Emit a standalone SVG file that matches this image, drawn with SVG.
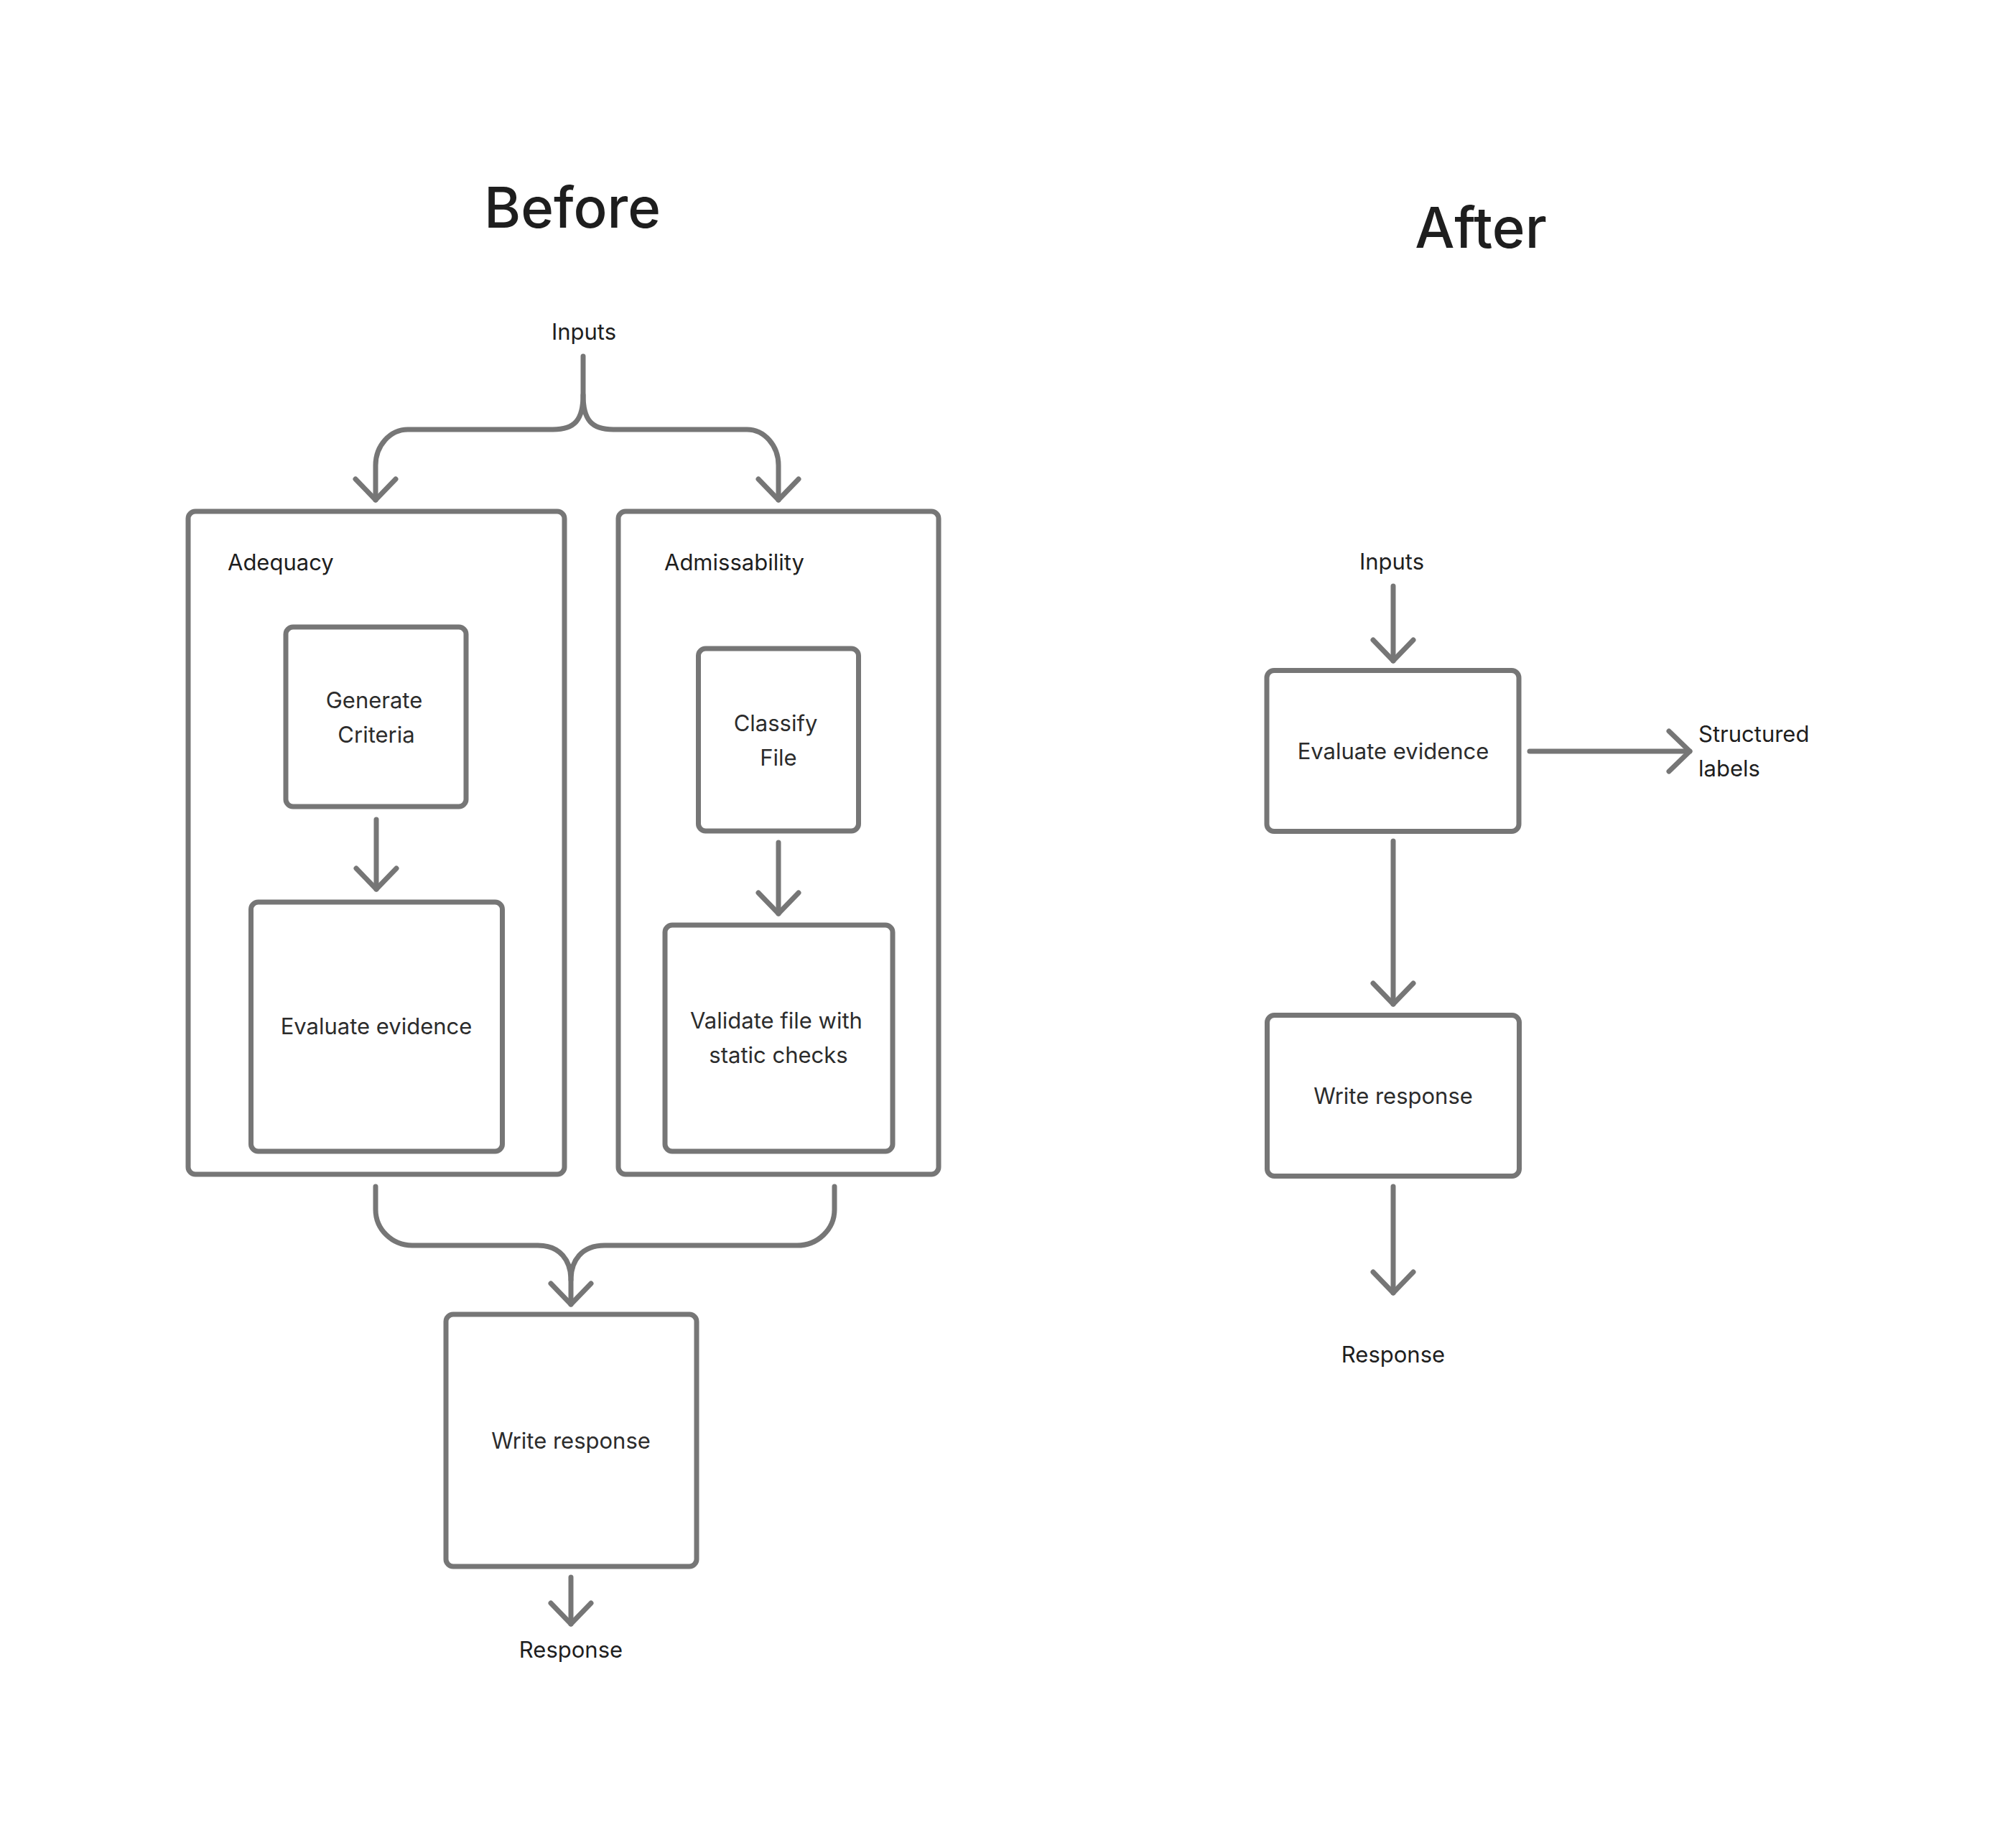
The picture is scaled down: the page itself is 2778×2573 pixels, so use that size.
<svg xmlns="http://www.w3.org/2000/svg" width="2778" height="2573" viewBox="0 0 2778 2573">
<style>
.box{fill:none;stroke:#767676;stroke-width:7}
.con{fill:none;stroke:#767676;stroke-width:7;stroke-linecap:round;stroke-linejoin:round}
.title{font-family:Inter,"Noto Sans","Liberation Sans",sans-serif;font-size:78px;fill:#1e1e1e;text-anchor:middle;font-weight:500}
.lbl{font-family:Inter,"Noto Sans","Liberation Sans",sans-serif;font-size:31px;fill:#1e1e1e}
.node{font-family:Inter,"Noto Sans","Liberation Sans",sans-serif;font-size:31px;fill:#2c2c2c;text-anchor:middle}
.mid{text-anchor:middle}
</style>
<defs>
<marker id="chev" markerUnits="userSpaceOnUse" viewBox="-40 -40 80 80" refX="0" refY="0" markerWidth="80" markerHeight="80" orient="auto">
<path d="M-29,-28 L0,0 L-29,28" fill="none" stroke="#767676" stroke-width="7" stroke-linecap="round" stroke-linejoin="round"/>
</marker>
</defs>
<rect width="2778" height="2573" fill="#ffffff"/>
<text class="title" x="797" y="317">Before</text>
<text class="title" x="2062" y="345">After</text>

<g id="before-inputs"><text class="lbl mid" x="813" y="473">Inputs</text></g>
<g id="adequacy">
<rect class="box" x="262" y="712" width="524" height="923" rx="10"/>
<text class="lbl" x="317" y="794">Adequacy</text>
</g>
<g id="admissability">
<rect class="box" x="861" y="712" width="446" height="923" rx="10"/>
<text class="lbl" x="925" y="794">Admissability</text>
</g>
<g id="generate-criteria">
<rect class="box" x="398" y="873" width="251" height="250" rx="10"/>
<text class="node" x="521" y="986">Generate</text>
<text class="node" x="524" y="1034">Criteria</text>
</g>
<g id="classify-file">
<rect class="box" x="972.5" y="903" width="223" height="254" rx="10"/>
<text class="node" x="1080" y="1018">Classify</text>
<text class="node" x="1084" y="1066">File</text>
</g>
<g id="evaluate-before">
<rect class="box" x="349.5" y="1256" width="350" height="347" rx="10"/>
<text class="node" x="524" y="1440">Evaluate evidence</text>
</g>
<g id="validate">
<rect class="box" x="926" y="1288" width="317" height="315" rx="10"/>
<text class="node" x="1081" y="1432">Validate file with</text>
<text class="node" x="1084" y="1480">static checks</text>
</g>
<g id="write-before">
<rect class="box" x="621" y="1830" width="349" height="351" rx="10"/>
<text class="node" x="795" y="2017">Write response</text>
</g>
<g id="before-response"><text class="lbl mid" x="795" y="2308">Response</text></g>

<g id="after-inputs"><text class="lbl mid" x="1938" y="793">Inputs</text></g>
<g id="evaluate-after">
<rect class="box" x="1764" y="933.5" width="351" height="224" rx="10"/>
<text class="node" x="1940" y="1057">Evaluate evidence</text>
</g>
<g id="structured-labels">
<text class="lbl" x="2365" y="1033">Structured</text>
<text class="lbl" x="2365" y="1081">labels</text>
</g>
<g id="write-after">
<rect class="box" x="1764.5" y="1413.5" width="351" height="224" rx="10"/>
<text class="node" x="1940" y="1537">Write response</text>
</g>
<g id="after-response"><text class="lbl mid" x="1940" y="1897">Response</text></g>

<g id="connectors">
<path class="con" d="M812,496 V550 C812,585 800,598 770,598 H568 A45 50 0 0 0 523 648 V696" marker-end="url(#chev)"/>
<path class="con" d="M812,550 C812,585 824,598 854,598 H1040 A44 50 0 0 1 1084 648 V696" marker-end="url(#chev)"/>
<path class="con" d="M524,1141 V1238" marker-end="url(#chev)"/>
<path class="con" d="M1084,1173 V1272" marker-end="url(#chev)"/>
<path class="con" d="M523,1652 V1684 A51 50 0 0 0 574 1734 H749 C780,1734 795,1755 795,1782 V1816" marker-end="url(#chev)"/>
<path class="con" d="M1162,1652 V1684 A52 50 0 0 1 1110 1734 H842 C810,1734 795,1755 795,1782"/>
<path class="con" d="M795,2196 V2261" marker-end="url(#chev)"/>
<path class="con" d="M1940,816 V920" marker-end="url(#chev)"/>
<path class="con" d="M2130,1046 H2353" marker-end="url(#chev)"/>
<path class="con" d="M1940,1171 V1398" marker-end="url(#chev)"/>
<path class="con" d="M1940,1652 V1800" marker-end="url(#chev)"/>
</g>
</svg>
